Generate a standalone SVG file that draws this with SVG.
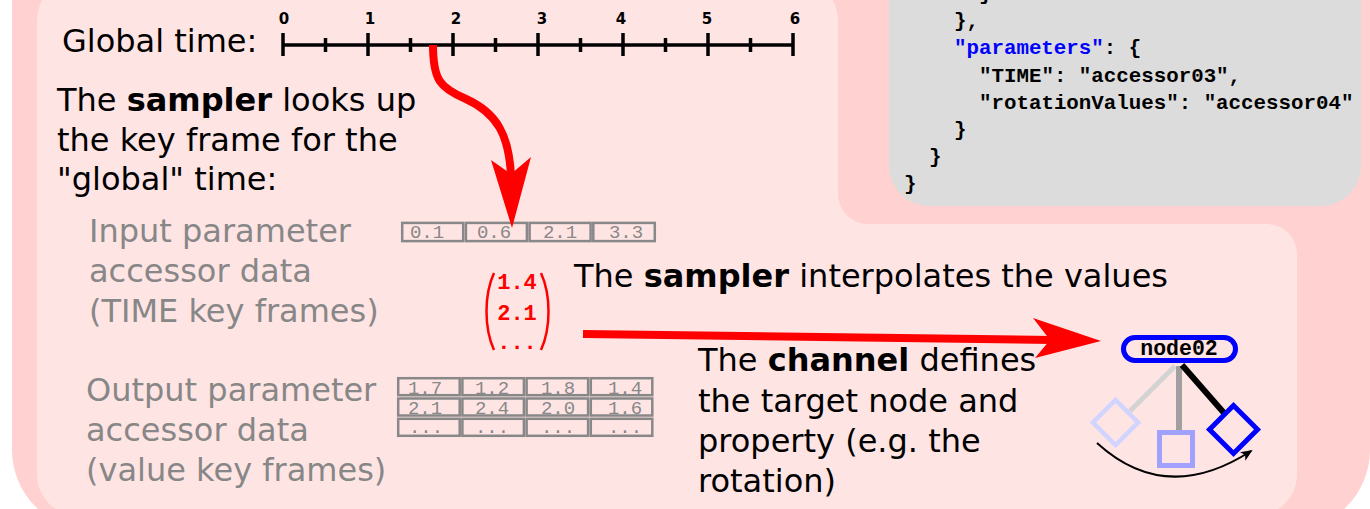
<svg xmlns="http://www.w3.org/2000/svg" width="1370" height="509" viewBox="0 0 1370 509">
<defs>
<style>
.t{font-family:"DejaVu Sans","Noto Sans",sans-serif;font-size:32px;fill:#000}
.g{fill:#878787}
.b{font-weight:bold}
.code{font-family:"Liberation Mono","Courier New",monospace;font-weight:bold;font-size:20.8px;fill:#000}
.key{fill:#0000ff}
.cell{fill:none;stroke:#888;stroke-width:2.5}
.ct{font-family:"Liberation Mono","Courier New",monospace;font-size:19px;fill:#888;text-anchor:middle}
.tick{stroke:#000;stroke-width:3.5}
.tl{font-family:"DejaVu Sans",sans-serif;font-weight:bold;font-size:15px;text-anchor:middle;fill:#000}
.red{fill:#ff0000}
.vec{font-family:"Liberation Mono","Courier New",monospace;font-weight:bold;font-size:22px;fill:#ff0000;text-anchor:middle}
</style>
<marker id="ah" viewBox="0 0 12 10" refX="10" refY="5" markerWidth="12" markerHeight="10" markerUnits="userSpaceOnUse" orient="auto">
<path d="M0,0 L12,5 L0,10 L3,5 Z" fill="#000"/>
</marker>
</defs>

<g id="background">
<path d="M12,-100 H1370 V450 A80,80 0 0 1 1290,530 H92 A80,80 0 0 1 12,450 Z" fill="#ffd1d1"/>
<path d="M77,-20 H798 A40,40 0 0 1 838,20 V194 A30,30 0 0 0 868,224 H1267 A30,30 0 0 1 1297,254 V475 A40,40 0 0 1 1257,515 H77 A40,40 0 0 1 37,475 V20 A40,40 0 0 1 77,-20 Z" fill="#ffe4e4"/>
</g>

<g id="code">
<rect x="889" y="-60" width="472" height="266" rx="40" fill="#dcdcdc"/>
<text class="code" x="979" y="0">}</text>
<text class="code" x="954" y="27">},</text>
<text class="code" x="954" y="54"><tspan class="key">"parameters"</tspan>: {</text>
<text class="code" x="979" y="81.5">"TIME": "accessor03",</text>
<text class="code" x="979" y="108.5">"rotationValues": "accessor04"</text>
<text class="code" x="954" y="135.5">}</text>
<text class="code" x="929" y="162.5">}</text>
<text class="code" x="904" y="189.5">}</text>
</g>

<g id="timeline">
<text class="t" x="62" y="52">Global time:</text>
<line class="tick" x1="283" y1="45" x2="793" y2="45"/>
<g class="tick">
<line x1="283" y1="33" x2="283" y2="56"/>
<line x1="368" y1="33" x2="368" y2="56"/>
<line x1="453" y1="33" x2="453" y2="56"/>
<line x1="538" y1="33" x2="538" y2="56"/>
<line x1="623" y1="33" x2="623" y2="56"/>
<line x1="708" y1="33" x2="708" y2="56"/>
<line x1="793" y1="33" x2="793" y2="56"/>
<line x1="325.5" y1="38" x2="325.5" y2="52"/>
<line x1="410.5" y1="38" x2="410.5" y2="52"/>
<line x1="495.5" y1="38" x2="495.5" y2="52"/>
<line x1="580.5" y1="38" x2="580.5" y2="52"/>
<line x1="665.5" y1="38" x2="665.5" y2="52"/>
<line x1="750.5" y1="38" x2="750.5" y2="52"/>
</g>
<text class="tl" x="284" y="24">0</text>
<text class="tl" x="370" y="24">1</text>
<text class="tl" x="456" y="24">2</text>
<text class="tl" x="542" y="24">3</text>
<text class="tl" x="621" y="24">4</text>
<text class="tl" x="707" y="24">5</text>
<text class="tl" x="795" y="24">6</text>
</g>

<g id="sampler-lookup-text">
<text class="t" x="57" y="111">The <tspan class="b">sampler</tspan> looks up</text>
<text class="t" x="57" y="151">the key frame for the</text>
<text class="t" x="57" y="190">"global" time:</text>
</g>

<g id="input-accessor">
<text class="t g" x="89" y="242">Input parameter</text>
<text class="t g" x="89" y="282">accessor data</text>
<text class="t g" x="89" y="322">(TIME key frames)</text>
<rect class="cell" x="402.2" y="222.9" width="61" height="18.2"/>
<rect class="cell" x="465.9" y="222.9" width="61" height="18.2"/>
<rect class="cell" x="529.6" y="222.9" width="61" height="18.2"/>
<rect class="cell" x="593.3" y="222.9" width="61.5" height="18.2"/>
<text class="ct" x="427" y="237.5">0.1</text>
<text class="ct" x="494" y="237.5">0.6</text>
<text class="ct" x="560" y="237.5">2.1</text>
<text class="ct" x="626" y="237.5">3.3</text>
</g>

<g id="output-accessor">
<text class="t g" x="86" y="401">Output parameter</text>
<text class="t g" x="86" y="441">accessor data</text>
<text class="t g" x="86" y="481">(value key frames)</text>
<rect class="cell" x="398.2" y="378.2" width="61.5" height="17"/>
<rect class="cell" x="462.4" y="378.2" width="61.5" height="17"/>
<rect class="cell" x="526.6" y="378.2" width="61.5" height="17"/>
<rect class="cell" x="590.8" y="378.2" width="61.5" height="17"/>
<rect class="cell" x="398.2" y="398.5" width="61.5" height="17"/>
<rect class="cell" x="462.4" y="398.5" width="61.5" height="17"/>
<rect class="cell" x="526.6" y="398.5" width="61.5" height="17"/>
<rect class="cell" x="590.8" y="398.5" width="61.5" height="17"/>
<rect class="cell" x="398.2" y="418.8" width="61.5" height="17"/>
<rect class="cell" x="462.4" y="418.8" width="61.5" height="17"/>
<rect class="cell" x="526.6" y="418.8" width="61.5" height="17"/>
<rect class="cell" x="590.8" y="418.8" width="61.5" height="17"/>
<text class="ct" x="425" y="393.5">1.7</text>
<text class="ct" x="492" y="393.5">1.2</text>
<text class="ct" x="558" y="393.5">1.8</text>
<text class="ct" x="625" y="393.5">1.4</text>
<text class="ct" x="425" y="413.5">2.1</text>
<text class="ct" x="492" y="413.5">2.4</text>
<text class="ct" x="558" y="413.5">2.0</text>
<text class="ct" x="625" y="413.5">1.6</text>
<text class="ct" x="426" y="433">...</text>
<text class="ct" x="492" y="433">...</text>
<text class="ct" x="558" y="433">...</text>
<text class="ct" x="625" y="433">...</text>
</g>

<g id="interpolated-value">
<path d="M494,273 C484,295 484,328 494,350" fill="none" stroke="#ff0000" stroke-width="2.5"/>
<path d="M541,273 C551,295 551,328 541,350" fill="none" stroke="#ff0000" stroke-width="2.5"/>
<text class="vec" x="517" y="289">1.4</text>
<text class="vec" x="517" y="320">2.1</text>
<text class="vec" x="517" y="349">...</text>
</g>

<g id="interpolate-text">
<text class="t" x="574" y="287">The <tspan class="b">sampler</tspan> interpolates the values</text>
</g>

<g id="channel-text">
<text class="t" x="698" y="371">The <tspan class="b">channel</tspan> defines</text>
<text class="t" x="698" y="411.5">the target node and</text>
<text class="t" x="698" y="452">property (e.g. the</text>
<text class="t" x="698" y="492">rotation)</text>
</g>

<g id="node02">
<line x1="1175" y1="366" x2="1130" y2="411" stroke="#d3d3d3" stroke-width="5"/>
<line x1="1179" y1="366" x2="1179" y2="432" stroke="#a0a0a0" stroke-width="6"/>
<line x1="1182" y1="365" x2="1224" y2="413" stroke="#000" stroke-width="6"/>
<rect x="1123.5" y="337.5" width="112" height="23" rx="11.5" fill="#ffe4e4" stroke="#0000ff" stroke-width="5"/>
<text x="1179" y="354.5" text-anchor="middle" font-family="Liberation Mono, Courier New, monospace" font-weight="bold" font-size="21.5" fill="#000">node02</text>
<rect x="-16" y="-16" width="32" height="32" fill="none" stroke="#d0d4ff" stroke-width="4.5" transform="translate(1115.5,422.5) rotate(45)"/>
<rect x="1159.5" y="432.5" width="33" height="33" fill="none" stroke="#a0a0ff" stroke-width="5"/>
<rect x="-17" y="-17" width="34" height="34" fill="none" stroke="#0000ff" stroke-width="5" transform="translate(1233.5,429.5) rotate(45)"/>
<path d="M1097,443 Q1166,506 1251,451" fill="none" stroke="#000" stroke-width="2" marker-end="url(#ah)"/>
</g>

<g id="connectors">
<path d="M433,45 C433,80 440,88 466,99 C497,113 509,135 511,176" fill="none" stroke="#ff0000" stroke-width="8"/>
<polygon class="red" points="512,228 491,160 511,174 531,157"/>
<path d="M583,334 L1052,340" fill="none" stroke="#ff0000" stroke-width="8"/>
<polygon class="red" points="1101,341 1033,318 1050,340 1035,358"/>
</g>
</svg>
